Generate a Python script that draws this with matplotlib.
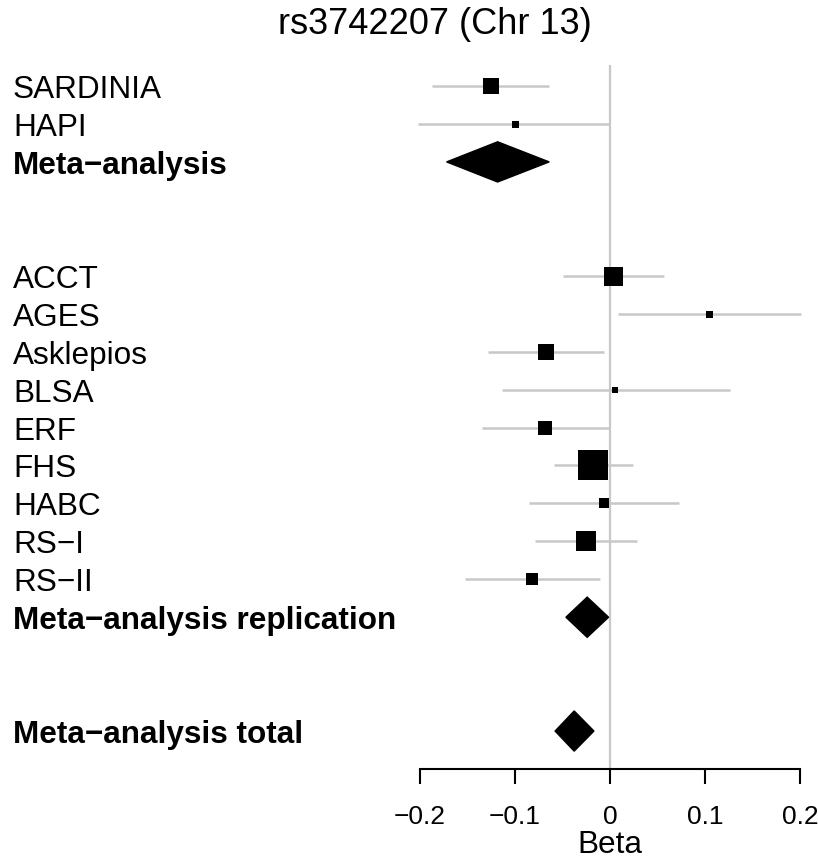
import numpy as np
import matplotlib
matplotlib.use("Agg")
from matplotlib import pyplot as plt
from matplotlib import transforms
from matplotlib.patches import Polygon

plt.rcParams['font.family'] = ['Liberation Sans', 'DejaVu Sans']

# studies (row numbers count from the top)
studies = ["SARDINIA", "HAPI", "ACCT", "AGES", "Asklepios", "BLSA", "ERF",
           "FHS", "HABC", "RS\u2212I", "RS\u2212II"]
study_rows = [1, 2, 6, 7, 8, 9, 10, 11, 12, 13, 14]
beta = [-0.1255, -0.0996, 0.0028, 0.104, -0.0672, 0.0056, -0.068,
        -0.0176, -0.0067, -0.0253, -0.0823]
lo = [-0.187, -0.202, -0.0496, 0.008, -0.128, -0.114, -0.135,
      -0.059, -0.0855, -0.0788, -0.153]
hi = [-0.064, 0.0, 0.0573, 0.201, -0.006, 0.126, -0.001,
      0.0243, 0.0724, 0.028, -0.011]
weight = [16, 7, 19, 7, 16, 6, 14, 30, 10, 20, 12]  # square side in px

# pooled estimates
meta_labels = ["Meta\u2212analysis", "Meta\u2212analysis replication",
               "Meta\u2212analysis total"]
meta_rows = [3, 15, 18]
meta_beta = [-0.1183, -0.0240, -0.0377]
meta_lo = [-0.172, -0.0464, -0.0578]
meta_hi = [-0.064, -0.0015, -0.0169]

W, H = 818, 862
fig = plt.figure(figsize=(W / 100, H / 100), dpi=100)
ax = fig.add_axes([420 / W, (H - 770) / H, 380 / W, 704 / H])
ax.set_xlim(-0.2, 0.2)
ax.set_ylim(19.0, 0.446)

grey = "#c8c8c8"
ax.axvline(0, color=grey, lw=1.6, zorder=1)

for r, b, l, h, w in zip(study_rows, beta, lo, hi, weight):
    ax.plot([l, h], [r, r], color=grey, lw=1.8, zorder=2, clip_on=False,
            solid_capstyle="butt")
    ax.scatter([b], [r], marker="s", s=(w * 0.72) ** 2, color="black",
               zorder=3, clip_on=False, linewidths=0)

hh = 0.53
for r, b, l, h in zip(meta_rows, meta_beta, meta_lo, meta_hi):
    ax.add_patch(Polygon([[l, r], [b, r - hh], [h, r], [b, r + hh]],
                         closed=True, color="black", zorder=3))

# baseline sits half a cap height below the row centre
lab_tr = transforms.blended_transform_factory(fig.transFigure, ax.transData)
off = 0.29
for name, r in zip(studies, study_rows):
    ax.text(13 / W, r + off, name, transform=lab_tr, fontsize=22.7,
            va="baseline", ha="left")
for name, r in zip(meta_labels, meta_rows):
    ax.text(13 / W, r + off, name, transform=lab_tr, fontsize=22.7,
            va="baseline", ha="left", fontweight="bold")

for s in ["left", "top", "right"]:
    ax.spines[s].set_visible(False)
ax.spines["bottom"].set_linewidth(1.5)
ax.set_yticks([])
ax.set_xticks([-0.2, -0.1, 0, 0.1, 0.2])
ax.set_xticklabels(["\u22120.2", "\u22120.1", "0", "0.1", "0.2"])
ax.tick_params(axis="x", length=11, width=1.5, labelsize=19, pad=14)
ax.set_xlabel("Beta", fontsize=22.7, labelpad=1)

fig.text(435 / W, 1 - 25 / H, "rs3742207 (Chr 13)", fontsize=26,
         ha="center", va="center")

fig.savefig("out.png", dpi=100)
